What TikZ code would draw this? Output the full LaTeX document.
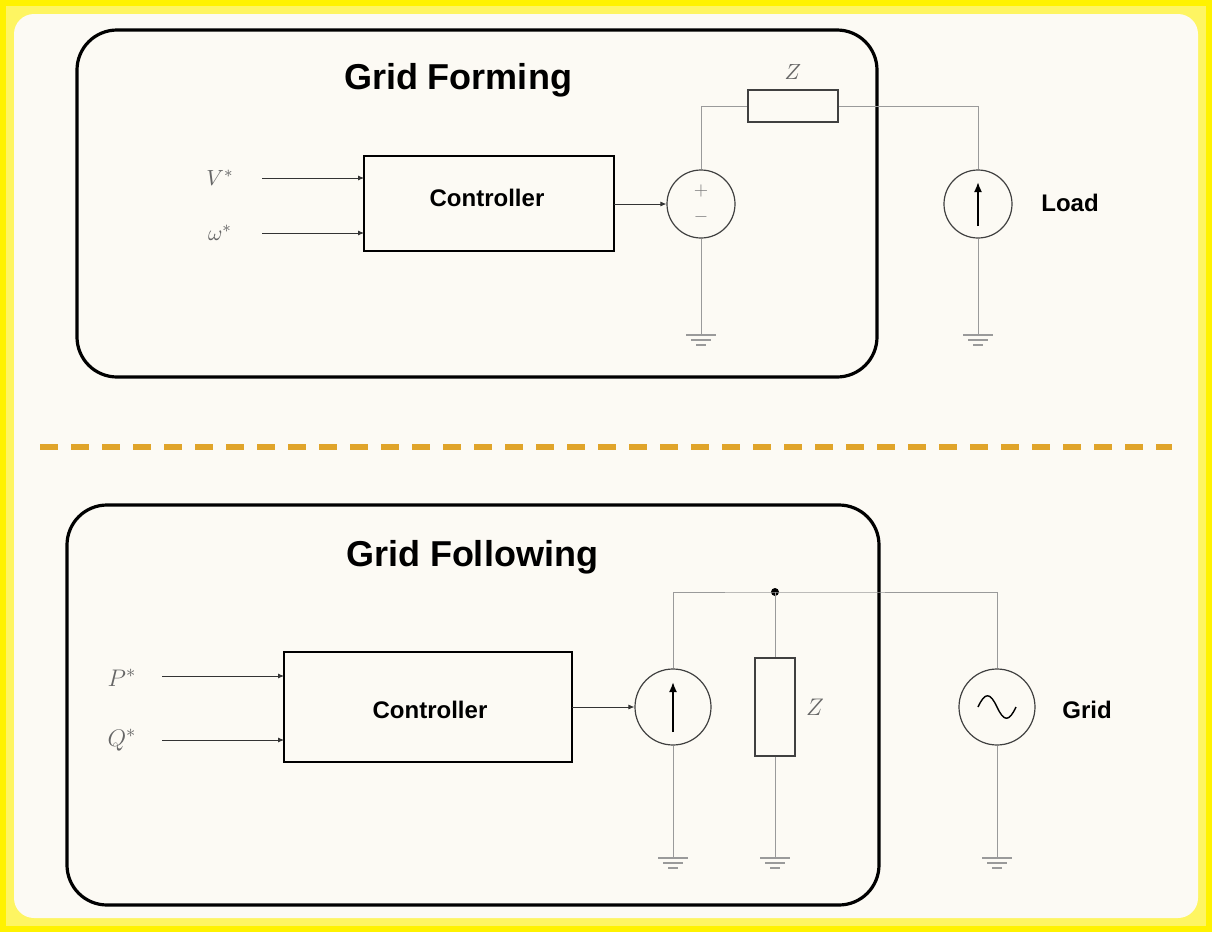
\documentclass[tikz,border=0pt]{standalone}
\usepackage{fontspec}
\setmainfont{Latin Modern Roman}
\newfontfamily\sansb{Liberation Sans}
\usetikzlibrary{arrows.meta}
\definecolor{cream}{HTML}{FCFAF4}
\definecolor{wire}{HTML}{9A9A9A}
\definecolor{dashc}{HTML}{E0A42A}
\begin{document}
\begin{tikzpicture}[x=0.5pt,y=-0.5pt,
  frame/.style={line width=1.6pt,rounded corners=20pt},
  blk/.style={draw,line width=0.7pt,inner sep=0},
  w/.style={draw=wire,line width=0.5pt},
  sig/.style={draw=black!80,line width=0.4pt,-{Latex[length=3pt,width=2.5pt]}},
  src/.style={circle,draw=black!75,line width=0.6pt,minimum size=34pt,inner sep=0},
  ttl/.style={font=\sansb\bfseries\fontsize{18}{20}\selectfont},
  lbl/.style={font=\sansb\bfseries\fontsize{12}{14}\selectfont},
  mth/.style={text=black!60,font=\fontsize{11}{13}\selectfont},
  gnd/.pic={\draw[wire,line width=0.6pt] (-15,0)--(15,0) (-10,5)--(10,5) (-5,10)--(5,10);}]
\useasboundingbox (0,0) rectangle (1212,932);
\fill[yellow] (0,0) rectangle (1212,932);
\fill[yellow!60!cream] (6,6) rectangle (1206,926);
\fill[cream,rounded corners=10pt] (14,14) rectangle (1198,918);
% top
\draw[frame] (77,30) rectangle (877,377);
\node[ttl] (t1) at (458,80) {Grid Forming};
\node[blk,minimum width=125pt,minimum height=47.5pt] (c1) at (489,203.5) {};
\node[lbl] (c1t) at (487,198) {Controller};
\node[mth] (v) at (220,178) {$V^*$};
\node[mth] (om) at (220,233) {$\omega^*$};
\coordinate (vi) at (262,178); \coordinate (vo) at (364,178);
\coordinate (oi) at (262,233); \coordinate (oo) at (364,233);
\draw[sig] (vi)--(vo); \draw[sig] (oi)--(oo);
\node[src] (vs) at (701,204) {};
\node[text=black!50,font=\fontsize{9}{9}\selectfont] (pl) at (701,191) {$+$};
\node[text=black!50,font=\fontsize{9}{9}\selectfont] (mi) at (701,217) {$-$};
\coordinate (c1o) at (614,204);
\draw[sig] (c1o)--(vs.west);
\node[blk,draw=black!75,line width=0.6pt,minimum width=45pt,minimum height=16pt] (z1) at (793,106) {};
\node[mth] (z1l) at (793,72) {$Z$};
\node[src] (cs1) at (978,204) {};
\coordinate (a1) at (978,226); \coordinate (a2) at (978,182);
\draw[line width=0.9pt,-{Latex[length=5pt,width=4pt]}] (a1)--(a2);
\node[lbl] (ld) at (1070,203) {Load};
\coordinate (g1) at (701,335); \coordinate (g2) at (978,335);
\draw[w] (vs.north)|-(z1.west) (z1.east)-|(cs1.north);
\draw[w] (vs.south)--(g1) (cs1.south)--(g2);
\pic at (g1) {gnd}; \pic at (g2) {gnd};
% dashed
\draw[dashc,line width=3pt,dash pattern=on 9pt off 6.5pt] (40,447)--(1172,447);
% bottom
\draw[frame] (67,505) rectangle (879,905);
\node[ttl] (t2) at (472,557) {Grid Following};
\node[blk,minimum width=144pt,minimum height=55pt] (c2) at (428,707) {};
\node[lbl] (c2t) at (430,710) {Controller};
\node[mth,font=\fontsize{13}{15}\selectfont] (p) at (122,678) {$P^*$};
\node[mth,font=\fontsize{13}{15}\selectfont] (q) at (122,740) {$Q^*$};
\coordinate (pi) at (162,676); \coordinate (po) at (284,676);
\coordinate (qi) at (162,740); \coordinate (qo) at (284,740);
\draw[sig] (pi)--(po); \draw[sig] (qi)--(qo);
\node[src,minimum size=38pt] (cs2) at (673,707) {};
\coordinate (b1) at (673,732); \coordinate (b2) at (673,682);
\draw[line width=0.9pt,-{Latex[length=5pt,width=4pt]}] (b1)--(b2);
\coordinate (c2o) at (572,707);
\draw[sig] (c2o)--(cs2.west);
\node[blk,draw=black!75,line width=0.6pt,minimum width=20pt,minimum height=49pt] (z2) at (775,707) {};
\node[mth,font=\fontsize{13}{15}\selectfont] (z2l) at (815,707) {$Z$};
\node[src,minimum size=38pt] (gs) at (997,707) {};
\draw[line width=0.7pt] (978,707) .. controls (985,692) and (990,692) .. (997,707) .. controls (1004,722) and (1009,722) .. (1016,707);
\node[lbl] (gl) at (1087,710) {Grid};
\coordinate (n) at (775,592);
\fill (n) circle (4);
\coordinate (h1) at (673,858); \coordinate (h2) at (775,858); \coordinate (h3) at (997,858);
\draw[w] (cs2.north)|-(n) -| (gs.north);
\draw[w] (n)--(z2.north) (z2.south)--(h2) (cs2.south)--(h1) (gs.south)--(h3);
\pic at (h1) {gnd}; \pic at (h2) {gnd}; \pic at (h3) {gnd};
\end{tikzpicture}
\end{document}
